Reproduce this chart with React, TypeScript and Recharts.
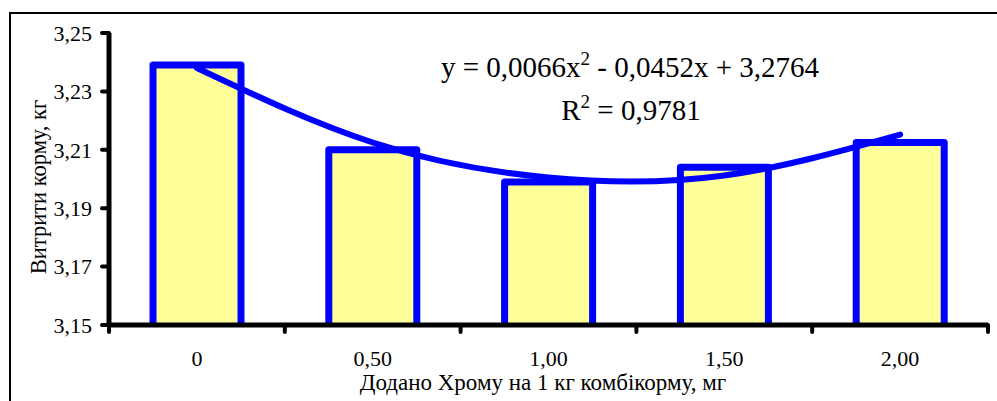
import React from 'react';
import { ComposedChart, Bar, Line, XAxis, YAxis } from 'recharts';

// Chromium dose groups (mg per kg of feed)
const categories = ['0', '0,50', '1,00', '1,50', '2,00'];
// feed cost, kg
const feedCost = [3.239, 3.21, 3.199, 3.204, 3.2125];
// polynomial trend line values read at each group
const trendCost = [3.238, 3.2125, 3.2005, 3.2012, 3.2152];
const yTicks = [3.15, 3.17, 3.19, 3.21, 3.23, 3.25];

const data = categories.map((name, i) => ({ name, cost: feedCost[i], trend: trendCost[i] }));

const SERIF = 'Liberation Serif';
const BLUE = '#0000FF';

const fmt = (v: number) => v.toFixed(2).replace('.', ',');

const BarShape = (props: any) => {
  const { x, y, width, height } = props;
  return (
    <g>
      <rect x={x} y={y} width={width} height={height} fill="#FFFF99" />
      <path
        d={`M${x},${y + height} L${x},${y} L${x + width},${y} L${x + width},${y + height}`}
        fill="none"
        stroke={BLUE}
        strokeWidth={7}
        strokeLinejoin="round"
      />
    </g>
  );
};

const XTick = (props: any) => {
  const { x, y, payload, index } = props;
  const half = payload && typeof payload.offset === 'number' && payload.offset > 0 ? payload.offset : 88;
  const last = index === categories.length - 1;
  return (
    <g>
      <line x1={x - half} y1={y} x2={x - half} y2={y + 7} stroke="#000" strokeWidth={4} strokeLinecap="round" />
      {last && (
        <line x1={x + half} y1={y} x2={x + half} y2={y + 7} stroke="#000" strokeWidth={4} strokeLinecap="round" />
      )}
      <text x={x} y={y + 41} textAnchor="middle" fontFamily={SERIF} fontSize={22} fill="#000">
        {payload.value}
      </text>
    </g>
  );
};

export default function App() {
  return (
    <div style={{ position: 'absolute', left: 0, top: 0, width: 997, height: 401, overflow: 'hidden', background: '#fff' }}>
      <div
        style={{
          position: 'absolute',
          left: 9,
          top: 12,
          width: 1100,
          height: 500,
          borderLeft: '2px solid #000',
          borderTop: '2px solid #000',
        }}
      />
      <div style={{ position: 'absolute', left: 0, top: 0 }}>
        <ComposedChart width={997} height={401} data={data} margin={{ top: 33, right: 9, bottom: 0, left: 0 }}>
          <XAxis
            dataKey="name"
            height={76}
            axisLine={{ stroke: '#000', strokeWidth: 5 }}
            tickLine={false}
            tickSize={0}
            tickMargin={0}
            tick={<XTick />}
            interval={0}
          />
          <XAxis
            xAxisId="top"
            dataKey="name"
            orientation="top"
            height={0}
            tick={false}
            tickLine={false}
            axisLine={{ stroke: '#808080', strokeWidth: 2 }}
          />
          <YAxis
            width={109}
            domain={[3.15, 3.25]}
            ticks={yTicks}
            tickFormatter={fmt}
            interval={0}
            axisLine={{ stroke: '#000', strokeWidth: 5 }}
            tickLine={{ stroke: '#000', strokeWidth: 4, strokeLinecap: 'round' }}
            tickSize={7}
            tickMargin={10}
            tick={{ fontSize: 22, fill: '#000', fontFamily: SERIF }}
          />
          <YAxis
            yAxisId="right"
            orientation="right"
            type="number"
            domain={[0, 1]}
            width={0}
            tick={false}
            tickLine={false}
            axisLine={{ stroke: '#808080', strokeWidth: 2 }}
          />
          <Bar dataKey="cost" barSize={88} shape={<BarShape />} isAnimationActive={false} />
          <Line
            dataKey="trend"
            type="natural"
            stroke={BLUE}
            strokeWidth={6}
            strokeLinecap="round"
            dot={false}
            activeDot={false}
            isAnimationActive={false}
          />
          <text x={630} y={77} textAnchor="middle" fontFamily={SERIF} fontSize={29} fill="#000">
            y = 0,0066x<tspan dy={-12} fontSize={19}>2</tspan>
            <tspan dy={12}> - 0,0452x + 3,2764</tspan>
          </text>
          <text x={631} y={120} textAnchor="middle" fontFamily={SERIF} fontSize={29} fill="#000">
            R<tspan dy={-12} fontSize={19}>2</tspan>
            <tspan dy={12}> = 0,9781</tspan>
          </text>
          <text transform="translate(46,187) rotate(-90)" textAnchor="middle" fontFamily={SERIF} fontSize={22.5} fill="#000">
            Витрити корму, кг
          </text>
          <text x={543} y={390} textAnchor="middle" fontFamily={SERIF} fontSize={23} fill="#000">
            Додано Хрому на 1 кг комбікорму, мг
          </text>
        </ComposedChart>
      </div>
    </div>
  );
}
